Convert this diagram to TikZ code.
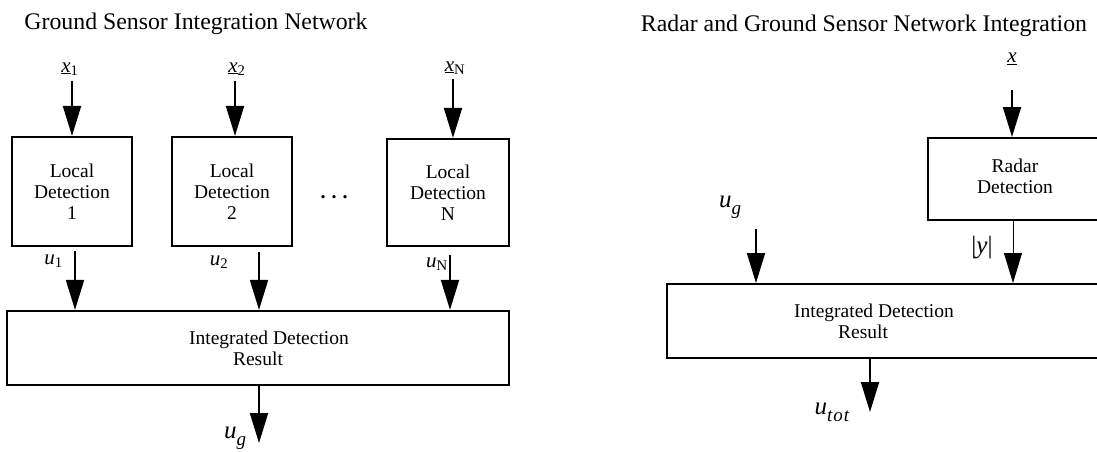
\documentclass[tikz,border=0pt]{standalone}
\usepackage{fontspec}
\setmainfont{Liberation Serif}
\usetikzlibrary{arrows.meta}
\begin{document}
\begin{tikzpicture}[x=1pt,y=-1pt,
  box/.style={draw, line width=2.2pt, inner sep=0pt},
  arr/.style={line width=2pt, -{Triangle[length=30pt,width=18pt]}},
  thinarr/.style={line width=0.9pt, -{Triangle[length=30pt,width=18pt]}},
  txt/.style={font=\fontsize{19.5}{21}\selectfont, align=center},
  ttl/.style={font=\fontsize{23.8}{28}\selectfont, inner sep=0pt},
  lbl/.style={font=\fontsize{21}{22}\selectfont, inner sep=0pt},
  biglbl/.style={font=\fontsize{25}{26}\selectfont, inner sep=0pt}]
\useasboundingbox (0,0) rectangle (1097,451);
\clip (0,0) rectangle (1097,451);

% ---------- left diagram ----------
\node[ttl] (t1) at (196,24) {Ground Sensor Integration Network};

\node[box, txt, minimum width=120pt, minimum height=109pt] (b1) at (72,191.5) {Local\\Detection\\1};
\node[box, txt, minimum width=120pt, minimum height=109pt] (b2) at (232,191.5) {Local\\Detection\\2};
\node[box, txt, minimum width=122pt, minimum height=107pt] (bn) at (448,192.5) {Local\\Detection\\N};
\node[font=\fontsize{20}{20}\selectfont\bfseries, inner sep=0pt, anchor=base] (dots) at (334,198) {.\hspace{6pt}.\hspace{6pt}.};

\node[box, txt, minimum width=502pt, minimum height=74pt] (int) at (258,348) {\hspace*{22pt}Integrated Detection\\Result};

\node[lbl] (x1) at (70,69) {\underline{\textit{x}}\textsubscript{1}};
\node[lbl] (x2) at (237,69) {\underline{\textit{x}}\textsubscript{2}};
\node[lbl] (xn) at (455,68) {\underline{\textit{x}}\textsubscript{N}};
\coordinate (x1s) at (72,81);
\coordinate (x2s) at (235,81);
\coordinate (xns) at (453,79);
\draw[arr] (x1s) -- (x1s |- b1.north);
\draw[arr] (x2s) -- (x2s |- b2.north);
\draw[arr] (xns) -- (xns |- bn.north);

\node[lbl] (u1) at (53.5,261) {\textit{u}\textsubscript{1}};
\node[lbl] (u2) at (219,262) {\textit{u}\textsubscript{2}};
\node[lbl] (un) at (437,264) {\textit{u}\textsubscript{N}};
\coordinate (u1s) at (75,251);
\coordinate (u2s) at (259,252);
\coordinate (uns) at (450,255);
\draw[arr] (u1s) -- (u1s |- int.north);
\draw[arr] (u2s) -- (u2s |- int.north);
\draw[arr] (uns) -- (uns |- int.north);

\coordinate (ugx) at (259,0);
\coordinate (uge) at (259,443);
\draw[arr] (ugx |- int.south) -- (uge);
\node[biglbl] (ug) at (235,438) {\textit{u}\raisebox{-7pt}{\fontsize{19}{19}\selectfont\textit{g}}};

% ---------- right diagram ----------
\node[ttl] (t2) at (864,26) {Radar and Ground Sensor Network Integration};

\node[box, minimum width=200pt, minimum height=82pt, anchor=north west] (rb) at (927,137) {};
\node[txt, inner sep=0pt] (rbt) at (1015,176) {Radar\\Detection};

\node[box, minimum width=460pt, minimum height=74pt, anchor=north west] (ri) at (666,283) {};
\node[txt, inner sep=0pt] (rit) at (863,321) {\hspace*{22pt}Integrated Detection\\Result};

\node[lbl] (xr) at (1012,59) {\underline{\textit{x}}};
\coordinate (xrs) at (1012,90);
\draw[arr] (xrs) -- (xrs |- rb.north);

\node[biglbl] (ugr) at (730,207) {\textit{u}\raisebox{-7pt}{\fontsize{19}{19}\selectfont\textit{g}}};
\coordinate (ugrs) at (756,229);
\draw[arr] (ugrs) -- (ugrs |- ri.north);

\node[font=\fontsize{25}{26}\selectfont, inner sep=0pt] (yl) at (982,248) {|\textit{y}|};
\coordinate (yx) at (1013,0);
\draw[thinarr] (yx |- rb.south) -- (yx |- ri.north);

\coordinate (utx) at (870,0);
\coordinate (ute) at (870,412);
\draw[arr] (utx |- ri.south) -- (ute);
\node[biglbl] (utot) at (832,412) {\textit{u}\raisebox{-7pt}{\fontsize{19}{19}\selectfont\textit{t\kern1pt o\kern1pt t}}};
\end{tikzpicture}
\end{document}
